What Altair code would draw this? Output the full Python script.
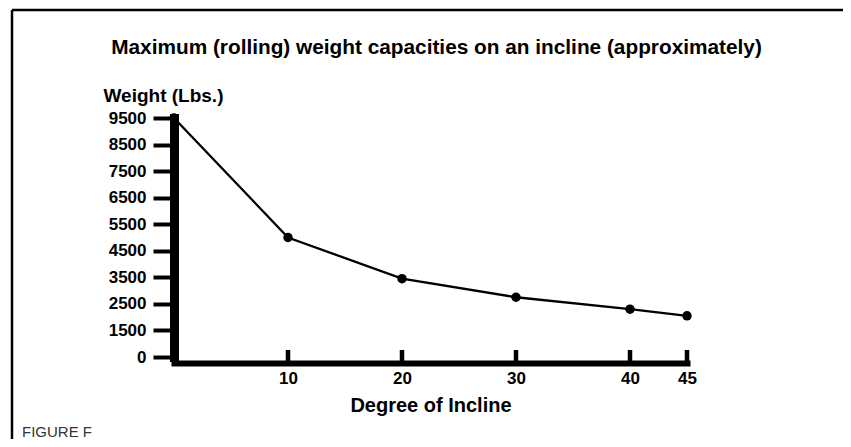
import altair as alt
import pandas as pd

# ---- data ----
incline = [0, 10, 20, 30, 40, 45]
weight = [9500, 5000, 3450, 2750, 2300, 2050]
x_ticks = [10, 20, 30, 40, 45]
y_ticks = [500, 1500, 2500, 3500, 4500, 5500, 6500, 7500, 8500, 9500]
title = "Maximum (rolling) weight capacities on an incline (approximately)"
y_title = "Weight (Lbs.)"
x_title = "Degree of Incline"
caption = "FIGURE F"

W, H = 513, 239
FONT = "Liberation Sans"

df = pd.DataFrame({"incline": incline, "weight": weight})
ticks_df = pd.DataFrame({"incline": x_ticks, "weight": [500] * len(x_ticks)})
one = pd.DataFrame({"k": [0]})

xscale = alt.Scale(domain=[0, 45], nice=False, zero=False)
yscale = alt.Scale(domain=[500, 9500], nice=False, zero=False)

x_enc = alt.X(
    "incline:Q",
    scale=xscale,
    axis=alt.Axis(
        values=x_ticks, format="d", title=x_title, offset=6,
        domainWidth=6, domainColor="black", domainCap="square",
        ticks=False, tickSize=0, labelPadding=7, labelFlush=False,
        labelFont=FONT, labelFontSize=17, labelFontWeight="bold", labelColor="black",
        titleFont=FONT, titleFontSize=20, titleFontWeight="bold", titleColor="black",
        titlePadding=9, grid=False,
    ),
)
y_enc = alt.Y(
    "weight:Q",
    scale=yscale,
    axis=alt.Axis(
        values=y_ticks,
        labelExpr="datum.value == 500 ? '0' : format(datum.value, 'd')",
        title=y_title, titleAngle=0, titleAlign="left", titleBaseline="alphabetic",
        titleX=-71, titleY=-17,
        domainWidth=9, domainColor="black", domainCap="square",
        tickSize=21, tickWidth=4, tickColor="black", labelPadding=7, labelFlush=False,
        labelFont=FONT, labelFontSize=17, labelFontWeight="bold", labelColor="black",
        titleFont=FONT, titleFontSize=19, titleFontWeight="bold", titleColor="black",
        grid=False,
    ),
)

line = alt.Chart(df).mark_line(color="black", strokeWidth=2.3).encode(x=x_enc, y=y_enc)
pts = alt.Chart(df).mark_circle(size=90, color="black", opacity=1).encode(x=x_enc, y=y_enc)
xt = alt.Chart(ticks_df).mark_rule(color="black", strokeWidth=4.5).encode(
    x=x_enc, y=alt.value(H + 6), y2=alt.value(H - 7)
)
frame_top = alt.Chart(one).mark_rule(color="black", strokeWidth=2.5).encode(
    x=alt.value(-162), x2=alt.value(669), y=alt.value(-108)
)
frame_left = alt.Chart(one).mark_rule(color="black", strokeWidth=2.5).encode(
    x=alt.value(-162), y=alt.value(-108), y2=alt.value(321)
)
ttl = alt.Chart(one).mark_text(
    text=title, align="center", baseline="alphabetic", font=FONT, fontSize=20.8,
    fontWeight="bold", color="black"
).encode(x=alt.value(W / 2 + 6), y=alt.value(-64))
cap = alt.Chart(one).mark_text(
    text=caption, align="left", baseline="alphabetic", font=FONT, fontSize=15, color="#333333"
).encode(x=alt.value(-152), y=alt.value(319))

chart = alt.layer(frame_top, frame_left, ttl, line, pts, xt, cap).properties(
    width=W, height=H,
    autosize=alt.AutoSizeParams(type="none"),
    padding={"left": 166, "top": 110, "right": 156, "bottom": 82},
).configure(background="white").configure_view(stroke=None)

chart.save("out.html", embed_options={"renderer": "svg", "actions": False})
